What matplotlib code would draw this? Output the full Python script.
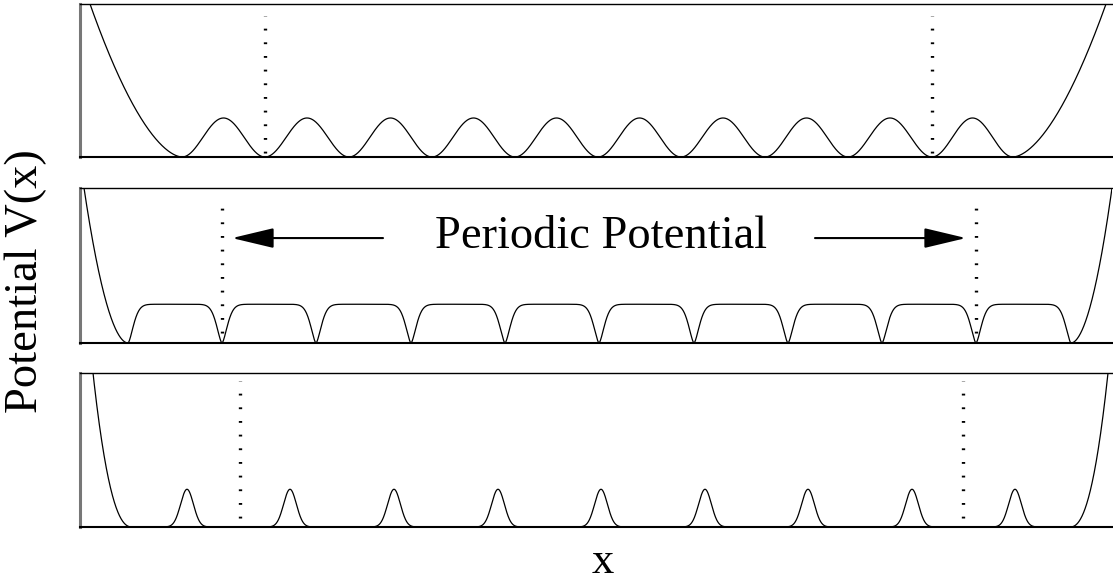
import numpy as np
import matplotlib
matplotlib.use('Agg')
import matplotlib.pyplot as plt

# ── Data (x in arbitrary units, centred on the lattice) ───────
X_RANGE = (-516, 516)

# top: cosine lattice, minima positions
cos_minima   = [-414, -331, -247, -164, -81, 2, 85, 169, 252, 336, 417]
cos_height   = 0.255
cos_wall     = [92, 93]        # distance from outer minimum to V = 1 (left, right)
cos_wall_pow = 1.7
cos_marks    = [-331, 336]

# middle: flat-topped lattice, narrow well positions
flat_wells    = [-468, -374, -280, -185, -91, 3, 98, 192, 286, 380, 475]
flat_height   = 0.25
flat_width    = 7.5
flat_pow      = 1.6
flat_wall     = [44, 41]
flat_wall_pow = 1.9
flat_marks    = [-374, 380]

# bottom: narrow gaussian barriers on a flat floor
peak_pos      = [-409, -306, -202, -98, 5, 109, 212, 316, 419]
peak_height   = 0.245
peak_sigma    = 6.4
peak_edges    = [-464, 474]   # where the outer walls start
peak_wall     = [39, 38]
peak_wall_pow = 2.3
peak_marks    = [-356, 367]

x = np.linspace(*X_RANGE, 4000)


def wall(x, x0, dtop, p, side):
    d = (x0 - x) if side == 'left' else (x - x0)
    return (np.clip(d, 0, None) / dtop) ** p


def cos_lattice(x):
    v = np.zeros_like(x)
    m = np.array(cos_minima, dtype=float)
    for a, b in zip(m[:-1], m[1:]):
        sel = (x >= a) & (x <= b)
        v[sel] = cos_height * (1 - np.cos(2 * np.pi * (x[sel] - a) / (b - a))) / 2
    v += wall(x, m[0], cos_wall[0], cos_wall_pow, 'left')
    v += wall(x, m[-1], cos_wall[1], cos_wall_pow, 'right')
    return v


def flat_lattice(x):
    v = np.full_like(x, flat_height)
    for w in flat_wells:
        v *= 1 - np.exp(-(np.abs(x - w) / flat_width) ** flat_pow)
    left, right = flat_wells[0], flat_wells[-1]
    v[x < left] = wall(x[x < left], left, flat_wall[0], flat_wall_pow, 'left')
    v[x > right] = wall(x[x > right], right, flat_wall[1], flat_wall_pow, 'right')
    return v


def peak_lattice(x):
    v = np.zeros_like(x)
    for p in peak_pos:
        v += peak_height * np.exp(-0.5 * ((x - p) / peak_sigma) ** 2)
    v += wall(x, peak_edges[0], peak_wall[0], peak_wall_pow, 'left')
    v += wall(x, peak_edges[1], peak_wall[1], peak_wall_pow, 'right')
    return v


# ── Style ─────────────────────────────────────────────────────
plt.rcParams['font.family'] = ['Liberation Serif', 'DejaVu Serif']

fig = plt.figure(figsize=(11.13, 5.82), dpi=100)
L, W = 80 / 1113, 1032 / 1113
panels = [
    (1 - 157 / 582, 153 / 582, cos_lattice,  cos_marks,  (0.026, 0.92)),
    (1 - 343 / 582, 155 / 582, flat_lattice, flat_marks, (0.065, 0.93)),
    (1 - 527 / 582, 154 / 582, peak_lattice, peak_marks, (0.06, 0.95)),
]

axes = []
for bottom, height, func, marks, (y0, y1) in panels:
    ax = fig.add_axes([L, bottom, W, height])
    ax.plot(x, func(x), color='black', lw=0.9)
    for m in marks:
        ax.axvline(m, ymin=y0, ymax=y1, color='black', lw=2.4,
                   linestyle=(0, (0.55, 3.55)), dash_capstyle='butt')
    ax.set_xlim(*X_RANGE)
    ax.set_ylim(0, 1)
    ax.set_xticks([])
    ax.set_yticks([])
    ax.spines['right'].set_visible(False)
    ax.spines['left'].set_color('#777777')
    ax.spines['left'].set_linewidth(2.2)
    ax.spines['top'].set_linewidth(1.0)
    ax.spines['bottom'].set_linewidth(1.5)
    axes.append(ax)

# ── Annotation in middle panel ────────────────────────────────
ax = axes[1]
ax.text(0.5045, 0.684, 'Periodic Potential', transform=ax.transAxes,
        ha='center', va='center', fontsize=33.5)
arrow = dict(arrowstyle='-|>,head_length=2.6,head_width=0.62',
             mutation_scale=10, color='black', lw=1.5,
             shrinkA=0, shrinkB=0)
ax.annotate('', xy=(-364, 0.677), xytext=(-213, 0.677), arrowprops=arrow)
ax.annotate('', xy=(370, 0.677), xytext=(219, 0.677), arrowprops=arrow)

fig.text(26 / 1113, 1 - 281 / 582, 'Potential V(x)', rotation=90,
         ha='center', va='center', fontsize=33.5)
fig.text(603 / 1113, 1 - 573 / 582, 'x', ha='center', va='baseline',
         fontsize=32)

fig.savefig('out.png', dpi=100)
